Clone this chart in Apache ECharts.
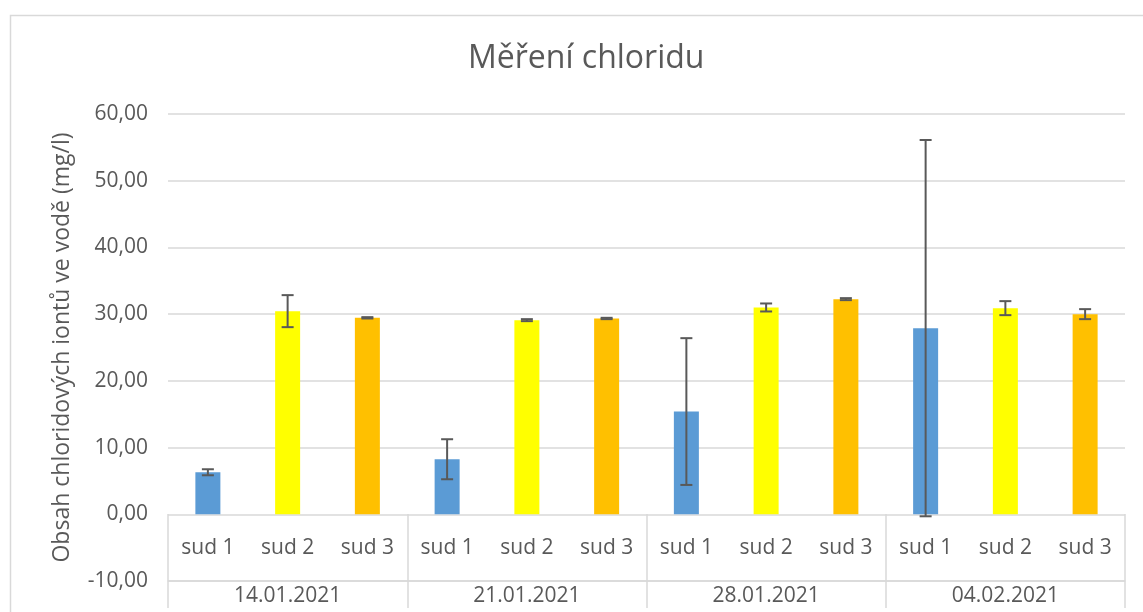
<!DOCTYPE html>
<html>
<head>
<meta charset="utf-8">
<title>Měření chloridu</title>
<script src="https://cdn.jsdelivr.net/npm/echarts@6/dist/echarts.min.js"></script>
<style>
    html, body { margin: 0; padding: 0; background: #fff; }
    #chart { width: 1143px; height: 612px; }
</style>
</head>
<body>
<div id="chart"></div>
<script>
// data
const dates = ['14.01.2021', '21.01.2021', '28.01.2021', '04.02.2021'];
const barrels = ['sud 1', 'sud 2', 'sud 3'];
const barrelColors = ['#5b9bd5', '#ffff00', '#ffc000'];

// mean per date, one array per barrel
const sud1 = [6.3, 8.25, 15.4, 27.9];
const sud2 = [30.45, 29.1, 31.0, 30.9];
const sud3 = [29.45, 29.35, 32.25, 30.0];

// +/- error per date
const sud1Err = [0.45, 3.0, 11.0, 28.2];
const sud2Err = [2.4, 0.15, 0.6, 1.05];
const sud3Err = [0.1, 0.1, 0.15, 0.75];

const yTicks = [-10, 0, 10, 20, 30, 40, 50, 60];

const means = [sud1, sud2, sud3];
const errs = [sud1Err, sud2Err, sud3Err];

// flatten into 12 categories: date x barrel
let categories = [];
let barData = [];
let errData = [];
dates.forEach((d, i) => {
    barrels.forEach((b, j) => {
        let idx = categories.length;
        categories.push(b);
        barData.push({ value: means[j][i], itemStyle: { color: barrelColors[j] } });
        errData.push([idx, means[j][i] - errs[j][i], means[j][i] + errs[j][i]]);
    });
});

const textColor = '#595959';
const lineColor = '#d9d9d9';
const font = '"Open Sans", sans-serif';
const lblSize = 21;

let chart = echarts.init(document.getElementById('chart'));

let option = {
    animation: false,
    backgroundColor: '#fff',
    title: {
        text: 'Měření chloridu',
        left: 463,
        top: 38,
        textStyle: { color: textColor, fontSize: 32, fontWeight: 'normal', fontFamily: font }
    },
    graphic: [
        {
            type: 'rect',
            shape: { x: 10.5, y: 15.5, width: 1200, height: 700 },
            style: { fill: 'none', stroke: lineColor, lineWidth: 1.5 },
            silent: true,
            z: -1
        }
    ],
    grid: { left: 168, right: 18, top: 114, bottom: 31, outerBoundsMode: 'none' },
    xAxis: [
        {
            // barrel labels, lifted up into the band between 0 and -10
            type: 'category',
            data: categories,
            position: 'bottom',
            axisLine: { show: false, onZero: false },
            axisTick: { show: false },
            axisLabel: { color: textColor, fontSize: lblSize, fontFamily: font, margin: -43 },
            splitLine: { show: false }
        },
        {
            // date labels + group separators reaching up to the zero line
            type: 'category',
            data: dates,
            position: 'bottom',
            axisLine: { show: true, onZero: false, lineStyle: { color: lineColor, width: 1.5 } },
            axisTick: { show: true, inside: true, length: 67, lineStyle: { color: lineColor, width: 1.5 } },
            axisLabel: { color: textColor, fontSize: lblSize, fontFamily: font, margin: 5 },
            splitLine: { show: false }
        },
        {
            // separators continuing below the bottom line
            type: 'category',
            data: dates,
            position: 'bottom',
            axisLine: { show: false, onZero: false },
            axisTick: { show: true, length: 27, lineStyle: { color: lineColor, width: 1.5 } },
            axisLabel: { show: false },
            splitLine: { show: false }
        }
    ],
    yAxis: {
        type: 'value',
        min: yTicks[0],
        max: yTicks[yTicks.length - 1],
        interval: 10,
        name: 'Obsah chloridových iontů ve vodě (mg/l)',
        nameLocation: 'middle',
        nameGap: 94,
        nameTextStyle: { color: textColor, fontSize: 23, fontFamily: font },
        axisLine: { show: false },
        axisTick: { show: false },
        axisLabel: {
            color: textColor,
            fontSize: lblSize,
            fontFamily: font,
            margin: 20,
            formatter: v => v.toFixed(2).replace('.', ',')
        },
        splitLine: { lineStyle: { color: lineColor, width: 1.5 } }
    },
    series: [
        {
            type: 'bar',
            xAxisIndex: 0,
            barWidth: 25,
            data: barData
        },
        {
            type: 'custom',
            xAxisIndex: 0,
            data: errData,
            z: 5,
            renderItem: (params, api) => {
                let lo = api.coord([api.value(0), api.value(1)]);
                let hi = api.coord([api.value(0), api.value(2)]);
                let half = 6;
                let style = { stroke: '#595959', lineWidth: 2 };
                return {
                    type: 'group',
                    children: [
                        { type: 'line', shape: { x1: hi[0], y1: hi[1], x2: lo[0], y2: lo[1] }, style: style },
                        { type: 'line', shape: { x1: hi[0] - half, y1: hi[1], x2: hi[0] + half, y2: hi[1] }, style: style },
                        { type: 'line', shape: { x1: lo[0] - half, y1: lo[1], x2: lo[0] + half, y2: lo[1] }, style: style }
                    ]
                };
            }
        }
    ]
};

chart.setOption(option);
window.onresize = () => chart.resize();
</script>
</body>
</html>
